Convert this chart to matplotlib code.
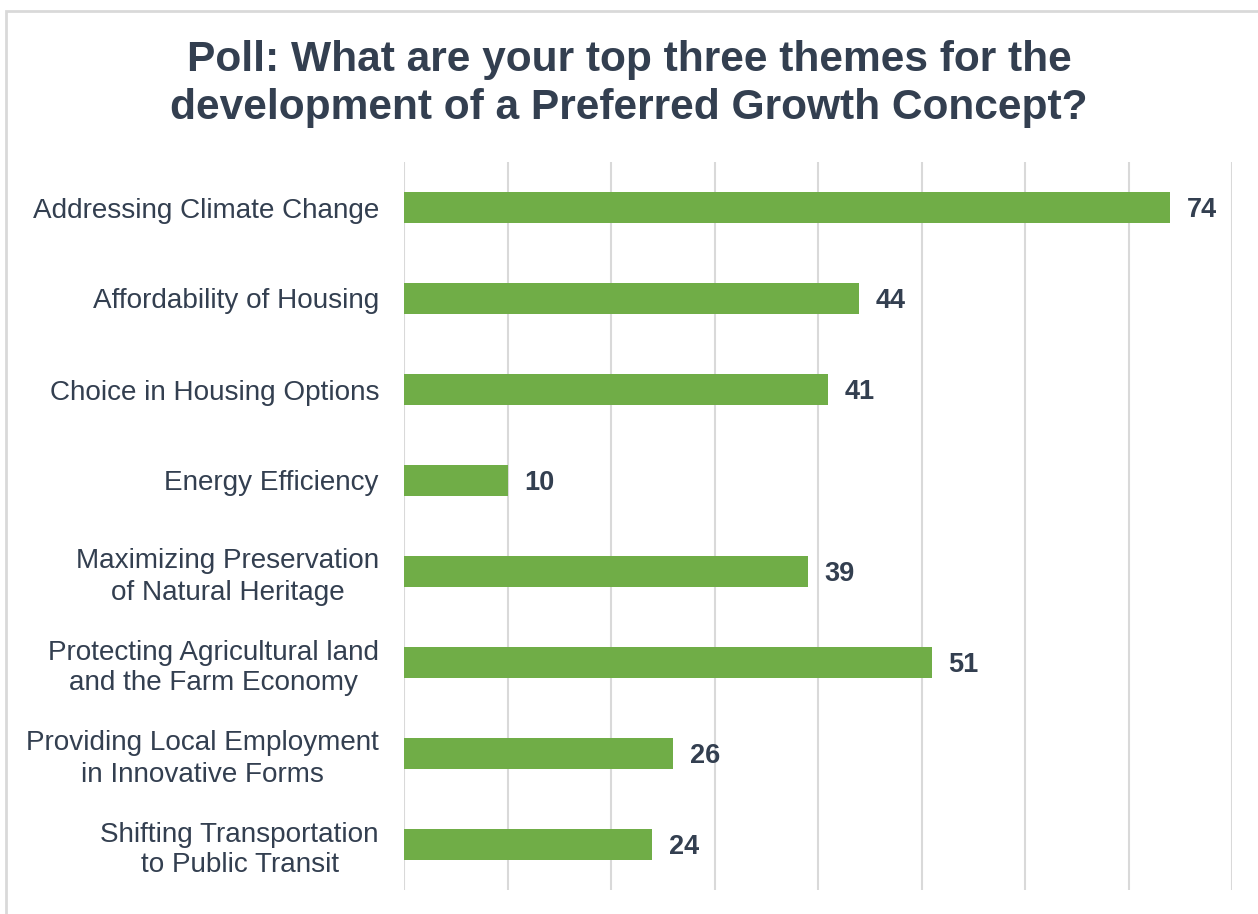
import matplotlib
matplotlib.use('Agg')
import matplotlib.pyplot as plt
from matplotlib.patches import Rectangle

categories = [
    "Addressing Climate Change",
    "Affordability of Housing",
    "Choice in Housing Options",
    "Energy Efficiency",
    "Maximizing Preservation\nof Natural Heritage",
    "Protecting Agricultural land\nand the Farm Economy",
    "Providing Local Employment\nin Innovative Forms",
    "Shifting Transportation\nto Public Transit",
]
values = [74, 44, 41, 10, 39, 51, 26, 24]
x_ticks = [0, 10, 20, 30, 40, 50, 60, 70, 80]

plt.rcParams['font.family'] = ['Liberation Sans', 'DejaVu Sans']
text_color = '#333F50'
bar_color = '#70AD47'
grid_color = '#D9D9D9'

W, H = 1258, 914
fig = plt.figure(figsize=(W / 100, H / 100), dpi=100)
ax = fig.add_axes([404 / W, 1 - 890 / H, (1232 - 404) / W, (890 - 162) / H])

# light frame around the chart (right and bottom edges fall outside the image)
fig.patches.append(Rectangle((6.5 / W, -0.05), 1.2, 1 - 10.5 / H + 0.05,
                             transform=fig.transFigure, fill=False,
                             edgecolor=grid_color, linewidth=2))

ypos = list(range(len(categories)))
bars = ax.barh(ypos, values, height=0.35, color=bar_color, zorder=3)

for bar, val in zip(bars, values):
    ax.text(bar.get_width() + 1.6, bar.get_y() + bar.get_height() / 2 + 0.03,
            f'{val}', va='center', ha='left', fontsize=19.5,
            fontweight='bold', color=text_color)

ax.set_xlim(0, 80)
ax.set_ylim(len(categories) - 0.5, -0.5)
ax.set_xticks(x_ticks)
ax.set_xticklabels([])
ax.tick_params(axis='x', length=0)
ax.set_yticks(ypos)
ax.set_yticklabels(categories, fontsize=20.1, color=text_color,
                   multialignment='center', linespacing=1.25)
ax.tick_params(axis='y', length=0, pad=18)
ax.xaxis.grid(True, color=grid_color, linewidth=1.5, zorder=0)
ax.set_axisbelow(True)
for spine in ax.spines.values():
    spine.set_visible(False)

fig.text(0.5, 1 - 84 / H, "Poll: What are your top three themes for the\n"
         "development of a Preferred Growth Concept?",
         ha='center', va='center', fontsize=30.6, fontweight='bold',
         color=text_color, linespacing=1.24)

fig.savefig('out.png', dpi=100)
